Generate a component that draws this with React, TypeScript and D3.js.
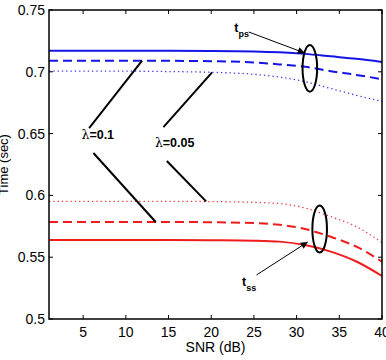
import * as d3 from "d3";

// SNR sample points (dB)
const snr = [1, 5, 10, 15, 20, 25, 28, 31, 34, 37, 40];

// t_ps (blue) for three lambda settings
const tpsSolid = [0.717, 0.717, 0.717, 0.717, 0.7169, 0.7165, 0.7158, 0.7145, 0.7125, 0.7105, 0.708];
const tpsDashed = [0.709, 0.709, 0.709, 0.7089, 0.7086, 0.7076, 0.706, 0.704, 0.7005, 0.6975, 0.694];
const tpsDotted = [0.7005, 0.7005, 0.7005, 0.7002, 0.6996, 0.698, 0.6957, 0.692, 0.6865, 0.681, 0.676];

// t_ss (red)
const tssSolid = [0.564, 0.564, 0.564, 0.564, 0.5638, 0.5634, 0.5626, 0.5598, 0.5545, 0.5465, 0.5348];
const tssDashed = [0.5785, 0.5785, 0.5785, 0.5785, 0.5783, 0.5776, 0.5762, 0.5728, 0.5665, 0.5585, 0.5464];
const tssDotted = [0.5952, 0.5952, 0.5952, 0.5952, 0.595, 0.5944, 0.5934, 0.5898, 0.5828, 0.5747, 0.5617];

const xTicks = [5, 10, 15, 20, 25, 30, 35, 40];
const yTicks = [0.5, 0.55, 0.6, 0.65, 0.7, 0.75];

const series = [
  { values: tpsSolid, color: "#1414e6", width: 2, dash: "none" },
  { values: tpsDashed, color: "#1414e6", width: 2, dash: "9 5" },
  { values: tpsDotted, color: "#3a3ae8", width: 1.3, dash: "1.3 3" },
  { values: tssSolid, color: "#ee1c1c", width: 2, dash: "none" },
  { values: tssDashed, color: "#ee1c1c", width: 2, dash: "9 5" },
  { values: tssDotted, color: "#ee3a3a", width: 1.3, dash: "1.3 3" },
];

// annotation leader lines in data coordinates [snr, time]
const lambdaLines: [number, number, number, number][] = [
  [5.7, 0.6545, 11.9, 0.709],
  [6.2, 0.6343, 13.5, 0.5785],
  [14.4, 0.6553, 20.1, 0.6995],
  [14.8, 0.6278, 19.4, 0.5952],
];

export default function App() {
  const width = 386;
  const height = 360;
  const margin = { top: 10, right: 4, bottom: 41, left: 49 };
  const x = d3.scaleLinear().domain([1, 40]).range([margin.left, width - margin.right]);
  const y = d3.scaleLinear().domain([0.5, 0.75]).range([height - margin.bottom, margin.top]);
  const x0 = x.range()[0];
  const x1 = x.range()[1];
  const y0 = y.range()[0];
  const y1 = y.range()[1];
  const tick = 4;
  const font = "Liberation Sans, Arial, sans-serif";

  const line = (vals: number[]) =>
    d3
      .line<number>()
      .x((_, i) => x(snr[i]))
      .y((v) => y(v))
      .curve(d3.curveMonotoneX)(vals) ?? "";

  return (
    <svg
      width={width}
      height={height}
      style={{ position: "absolute", left: 0, top: 0, background: "#fff" }}
      fontFamily={font}
    >
      <defs>
        <marker id="arr" viewBox="0 0 10 10" refX="10" refY="5" markerWidth="9" markerHeight="7" orient="auto" markerUnits="userSpaceOnUse">
          <path d="M0,0 L10,5 L0,10 z" fill="#000" />
        </marker>
      </defs>

      {series.map((s, i) => (
        <path
          key={i}
          d={line(s.values)}
          fill="none"
          stroke={s.color}
          strokeWidth={s.width}
          strokeDasharray={s.dash}
        />
      ))}

      {lambdaLines.map(([a, b, c, d], i) => (
        <line key={i} x1={x(a)} y1={y(b)} x2={x(c)} y2={y(d)} stroke="#000" strokeWidth={2} />
      ))}
      <text x={x(4.8)} y={y(0.6457)} fontSize={12.5} fontWeight="bold">
        <tspan fontWeight="normal" fontFamily="DejaVu Serif, serif">λ</tspan>=0.1
      </text>
      <text x={x(13.4)} y={y(0.6392)} fontSize={12.5} fontWeight="bold">
        <tspan fontWeight="normal" fontFamily="DejaVu Serif, serif">λ</tspan>=0.05
      </text>

      {/* t_ps marker */}
      <ellipse cx={x(31.55)} cy={y(0.7028)} rx={7.3} ry={23.3} fill="none" stroke="#000" strokeWidth={2} />
      <line x1={x(24.4)} y1={y(0.7322)} x2={x(30.96)} y2={y(0.7152)} stroke="#000" strokeWidth={1} markerEnd="url(#arr)" />
      <text x={x(22.7)} y={y(0.7322)} fontSize={12.5} fontWeight="bold">
        t<tspan fontSize={9} dy={5}>ps</tspan>
      </text>

      {/* t_ss marker */}
      <ellipse cx={x(32.7)} cy={y(0.5728)} rx={7.3} ry={23.5} fill="none" stroke="#000" strokeWidth={2} />
      <line x1={x(25.3)} y1={y(0.5356)} x2={x(31.3)} y2={y(0.5623)} stroke="#000" strokeWidth={1} markerEnd="url(#arr)" />
      <text x={x(23.6)} y={y(0.5267)} fontSize={12.5} fontWeight="bold">
        t<tspan fontSize={9} dy={5}>ss</tspan>
      </text>

      {/* box + ticks */}
      <rect x={x0} y={y1} width={x1 - x0} height={y0 - y1} fill="none" stroke="#000" strokeWidth={1.5} />
      {xTicks.map((t) => (
        <g key={`x${t}`}>
          <line x1={x(t)} x2={x(t)} y1={y0} y2={y0 - tick} stroke="#000" />
          <line x1={x(t)} x2={x(t)} y1={y1} y2={y1 + tick} stroke="#000" />
          <text x={x(t)} y={y0 + 18} fontSize={14} textAnchor="middle">
            {t}
          </text>
        </g>
      ))}
      {yTicks.map((t) => (
        <g key={`y${t}`}>
          <line x1={x0} x2={x0 + tick} y1={y(t)} y2={y(t)} stroke="#000" />
          <line x1={x1} x2={x1 - tick} y1={y(t)} y2={y(t)} stroke="#000" />
          <text x={x0 - 4} y={y(t) + 5} fontSize={14} textAnchor="end">
            {d3.format("")(t)}
          </text>
        </g>
      ))}
      <text x={(x0 + x1) / 2} y={352} fontSize={14} textAnchor="middle">
        SNR (dB)
      </text>
      <text
        transform={`translate(8,${(y0 + y1) / 2}) rotate(-90)`}
        fontSize={13}
        textAnchor="middle"
      >
        Time (sec)
      </text>
    </svg>
  );
}
